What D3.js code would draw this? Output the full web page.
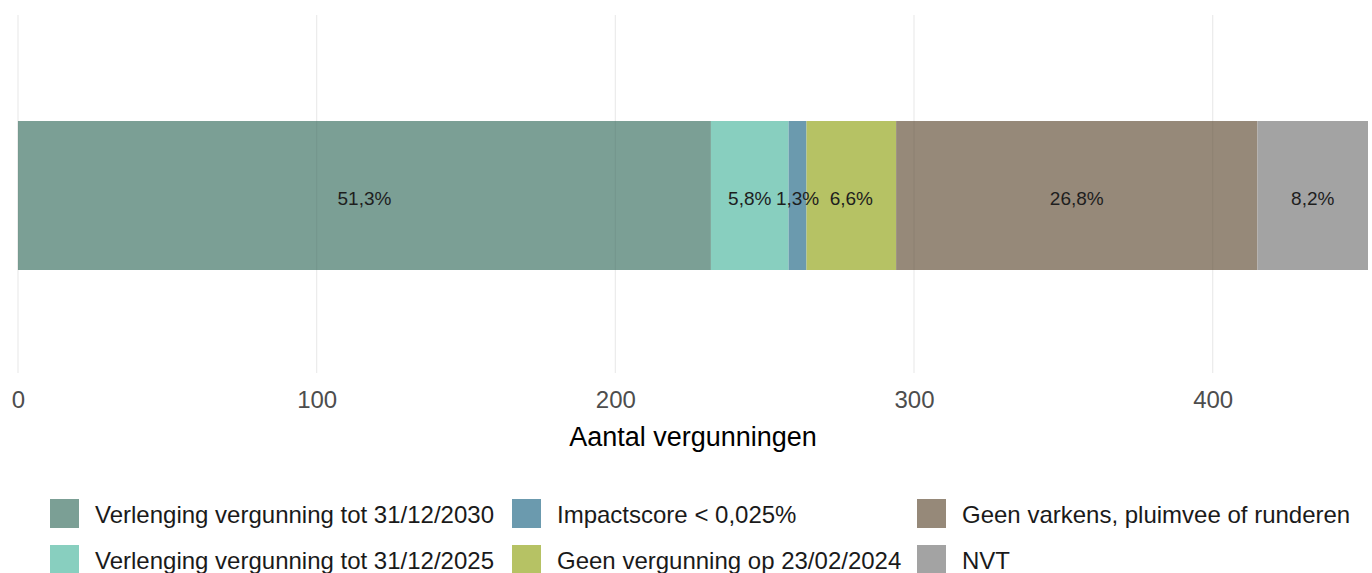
<!DOCTYPE html>
<html>
<head>
<meta charset="utf-8">
<script src="https://cdn.jsdelivr.net/npm/d3@7"></script>
<style>
  html, body { margin: 0; padding: 0; background: #fff; }
  svg { display: block; font-family: "Liberation Sans", Arial, sans-serif; }
</style>
</head>
<body>
<svg id="chart" width="1372" height="573"></svg>
<script>
// Data
const categories = [
  "Verlenging vergunning tot 31/12/2030",
  "Verlenging vergunning tot 31/12/2025",
  "Impactscore < 0,025%",
  "Geen vergunning op 23/02/2024",
  "Geen varkens, pluimvee of runderen",
  "NVT"
];
const counts = [232, 26, 6, 30, 121, 37];
const percentLabels = ["51,3%", "5,8%", "1,3%", "6,6%", "26,8%", "8,2%"];
const colors = ["#7b9f95", "#88cfbf", "#6b9aae", "#b6c264", "#968979", "#a3a3a3"];
const xTicks = [0, 100, 200, 300, 400];
const xTitle = "Aantal vergunningen";
const legendOrder = [0, 1, 2, 3, 4, 5];

const svg = d3.select("#chart");
const total = d3.sum(counts);

const x = d3.scaleLinear().domain([0, total]).range([18, 1368]);
const y = d3.scaleBand().domain(["all"]).range([121, 270]);

// grid
svg.append("g").selectAll("line").data(xTicks).join("line")
  .attr("x1", d => x(d)).attr("x2", d => x(d))
  .attr("y1", 15).attr("y2", 373)
  .attr("stroke", "#ebebeb").attr("stroke-width", 1.2);

// stacked segments
const row = {};
categories.forEach((c, i) => row[c] = counts[i]);
const stacked = d3.stack().keys(categories)([row]);

const segs = svg.append("g");
stacked.forEach((s, i) => {
  const d = s[0];
  segs.append("rect")
    .attr("x", x(d[0])).attr("width", x(d[1]) - x(d[0]))
    .attr("y", y("all")).attr("height", y.bandwidth())
    .attr("fill", colors[i]);
});
// grid showing faintly through bar
svg.append("g").selectAll("line").data(xTicks).join("line")
  .attr("x1", d => x(d)).attr("x2", d => x(d))
  .attr("y1", y("all")).attr("y2", y("all") + y.bandwidth())
  .attr("stroke", "#000").attr("stroke-opacity", 0.05).attr("stroke-width", 1.2);

stacked.forEach((s, i) => {
  const d = s[0];
  svg.append("text")
    .attr("x", (x(d[0]) + x(d[1])) / 2)
    .attr("y", y("all") + y.bandwidth() / 2 + 3)
    .attr("dy", "0.35em")
    .attr("text-anchor", "middle")
    .attr("font-size", 19)
    .attr("fill", "#1e1e1e")
    .text(percentLabels[i]);
});

// x axis
const axis = svg.append("g").attr("transform", "translate(0,383)")
  .call(d3.axisBottom(x).tickValues(xTicks).tickSize(0).tickPadding(8).tickFormat(d3.format("d")));
axis.select(".domain").remove();
axis.selectAll("text").attr("font-size", 24).attr("fill", "#4d4d4d")
  .attr("font-family", "Liberation Sans, Arial, sans-serif");

svg.append("text")
  .attr("x", (x.range()[0] + x.range()[1]) / 2)
  .attr("y", 446)
  .attr("text-anchor", "middle")
  .attr("font-size", 27)
  .attr("fill", "#000")
  .text(xTitle);

// legend
const colX = [50, 512, 917];
const rowY = [499, 545];
const lg = svg.append("g");
legendOrder.forEach((ci, k) => {
  const col = Math.floor(k / 2), r = k % 2;
  lg.append("rect")
    .attr("x", colX[col]).attr("y", rowY[r])
    .attr("width", 29).attr("height", 29)
    .attr("fill", colors[ci]);
  lg.append("text")
    .attr("x", colX[col] + 45).attr("y", rowY[r] + 15.5)
    .attr("dy", "0.35em")
    .attr("font-size", 24)
    .attr("fill", "#1a1a1a")
    .text(categories[ci]);
});
</script>
</body>
</html>
